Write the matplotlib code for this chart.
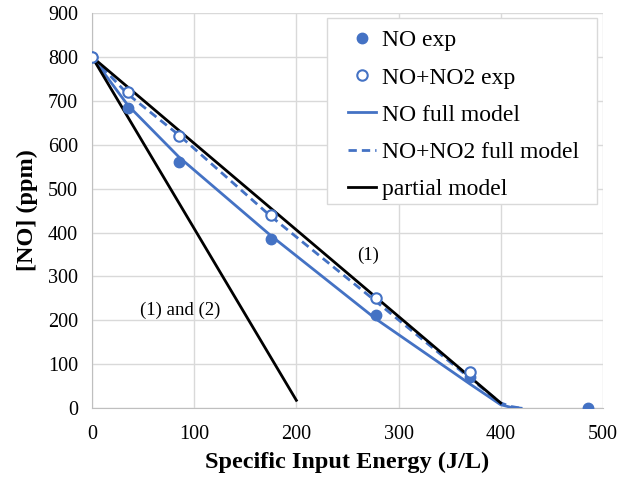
import matplotlib
matplotlib.use("Agg")
import matplotlib.pyplot as plt
from matplotlib.patches import Rectangle

plt.rcParams['font.family'] = ['Liberation Serif', 'DejaVu Serif']

BLUE = "#4472C4"

# Experimental data
sie_exp = [0, 35, 85, 175, 278, 370, 485]
no_exp = [800, 683, 560, 385, 213, 70, 0]
sie_tot_exp = [0, 35, 85, 175, 278, 370]
nox_exp = [800, 720, 620, 440, 250, 83]

# Full kinetic model
sie_model = [0, 35, 85, 175, 278, 370, 400, 410, 420]
no_model = [800, 690, 572, 393, 203, 55, 8, 2, 0]
nox_model = [800, 715, 622, 437, 243, 68, 12, 4, 0]

# Partial models
sie_partial1 = [0, 400]
no_partial1 = [800, 12]
sie_partial12 = [0, 200]
no_partial12 = [800, 18]

fig = plt.figure(figsize=(6.26, 4.78), dpi=100)
ax = fig.add_axes([0.147, 0.146, 0.816, 0.827])

ax.plot(sie_model, no_model, color=BLUE, lw=2, label="NO full model", zorder=3)
ax.plot(sie_model, nox_model, color=BLUE, lw=2, ls=(0, (3, 1.8)), label="NO+NO2 full model", zorder=3)
ax.plot(sie_partial1, no_partial1, color="black", lw=2, label="partial model", zorder=3)
ax.plot(sie_partial12, no_partial12, color="black", lw=2, zorder=3)
ax.plot(sie_exp, no_exp, "o", color=BLUE, ms=7.5, label="NO exp", zorder=4)
ax.plot(sie_tot_exp, nox_exp, "o", mfc="white", mec=BLUE, mew=1.5, ms=7.5,
        label="NO+NO2 exp", zorder=5)

ax.set_xlim(0, 500)
ax.set_ylim(0, 900)
ax.set_xticks(range(0, 501, 100))
ax.set_yticks(range(0, 901, 100))
ax.grid(True, color="#d9d9d9", lw=1)
ax.set_axisbelow(True)
for side in ["top", "right"]:
    ax.spines[side].set_visible(False)
for side in ["left", "bottom"]:
    ax.spines[side].set_color("#bfbfbf")
ax.tick_params(length=0, labelsize=14.5)
ax.tick_params(axis="x", pad=12)
ax.tick_params(axis="y", pad=10)

ax.set_xlabel("Specific Input Energy (J/L)", fontsize=17.5, fontweight="bold", labelpad=6)
ax.set_ylabel("[NO] (ppm)", fontsize=17.5, fontweight="bold", labelpad=7)

ax.text(86, 223, "(1) and (2)", fontsize=13.5, ha="center", va="center")
ax.text(270, 348, "(1)", fontsize=13.5, ha="center", va="center")

# Legend box drawn separately so its padding can differ per side
ax.add_patch(Rectangle((0.46, 0.516), 0.528, 0.471, transform=ax.transAxes,
                       facecolor="white", edgecolor="#d9d9d9", lw=1, zorder=6))

handles, labels = ax.get_legend_handles_labels()
order = ["NO exp", "NO+NO2 exp", "NO full model", "NO+NO2 full model", "partial model"]
hmap = dict(zip(labels, handles))
leg = ax.legend([hmap[k] for k in order], order, loc="upper left",
                bbox_to_anchor=(0.501, 0.957), fontsize=17, frameon=False,
                handlelength=1.2, handletextpad=0.26, labelspacing=0.66,
                borderpad=0, borderaxespad=0)
leg.set_zorder(7)

fig.savefig("out.png", dpi=100)
